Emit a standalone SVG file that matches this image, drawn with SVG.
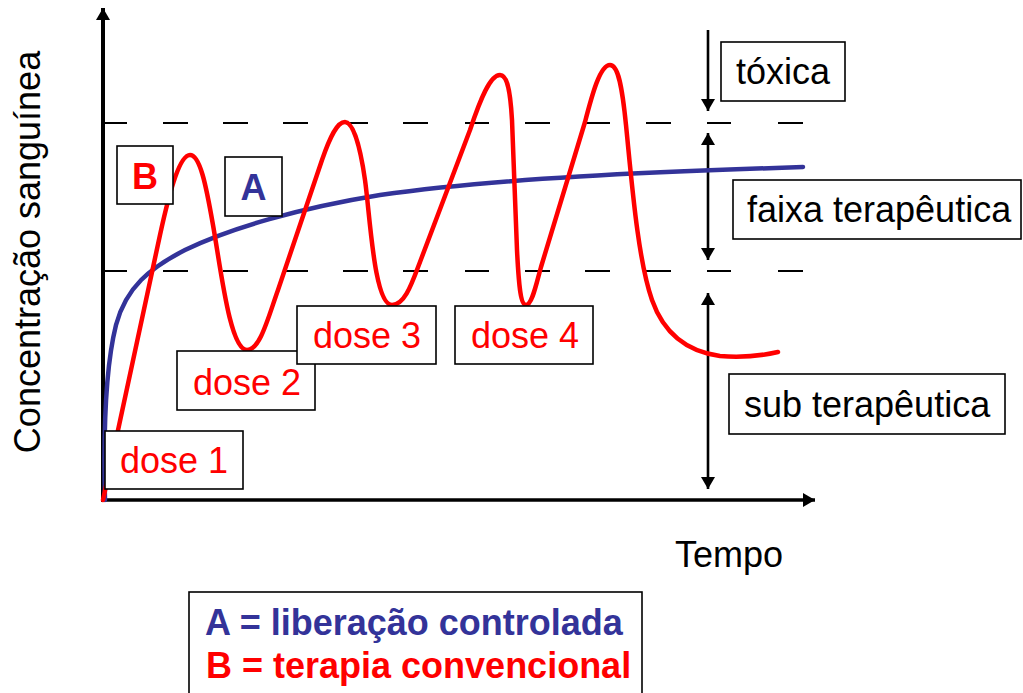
<svg xmlns="http://www.w3.org/2000/svg" width="1023" height="693" viewBox="0 0 1023 693">
<defs>
<marker id="ah" markerUnits="userSpaceOnUse" markerWidth="13" markerHeight="14" refX="12" refY="7" orient="auto-start-reverse">
<path d="M0,0 L12,7 L0,14 z" fill="#000"/>
</marker>
<style>
.box{fill:#fff;stroke:#000;stroke-width:1.6}
.t{font-family:"Liberation Sans",Arial,sans-serif;font-size:36px}
.red{fill:#ff0000}
.blk{fill:#000}
.bold{font-weight:bold}
.blue{fill:#333399}
.dash{stroke:#000;stroke-width:2;fill:none}
.arr{stroke:#000;stroke-width:2.6;fill:none}
</style>
</defs>
<rect width="1023" height="693" fill="#fff"/>

<g id="axes">
<line x1="103" y1="502" x2="103" y2="8" stroke="#000" stroke-width="4" marker-end="url(#ah)"/>
<line x1="101" y1="500" x2="815" y2="500" stroke="#000" stroke-width="3.5" marker-end="url(#ah)"/>
</g>

<g id="limits">
<path class="dash" d="M105,123h22M163,123h25M223,123h25M283,123h25M343,123h25M403,123h25M465,123h24M525,123h25M585,123h25M646,123h25M707,123h24M778,123h25"/>
<path class="dash" d="M105,271h22M163,271h25M223,271h25M283,271h25M343,271h25M403,271h25M465,271h24M525,271h25M585,271h25M646,271h25M707,271h24M778,271h25"/>
</g>

<g id="connectors">
<line class="arr" x1="708" y1="30" x2="708" y2="111" marker-end="url(#ah)"/>
<line class="arr" x1="708" y1="133" x2="708" y2="260" marker-start="url(#ah)" marker-end="url(#ah)"/>
<line class="arr" x1="708" y1="293" x2="708" y2="489" marker-start="url(#ah)" marker-end="url(#ah)"/>
</g>

<g id="curve-A">
<path d="M105,500 C103,420 106,365 116,325 C126,287 150,268 185,250 C230,228 300,208 380,195 C500,178 650,172 803,167" fill="none" stroke="#333399" stroke-width="4.5" stroke-linecap="round"/>
</g>

<g id="curve-B">
<path d="M103,500 L160,235 C170,189 180,155 190,155 C200,155 206,185 213,225 C221,270 230,350 247,350 C260,350 268,318 278,290 L322,160 C330,137 337,122 345,122 C353,122 360,145 365,180 C370,215 374,305 392,305 C405,305 412,283 420,262 L470,130 C480,100 490,75 500,75 C506,75 510,85 512,120 L517,250 C519,290 521,305 526,305 C532,305 536,285 541,267 L585,122 C592,95 600,65 610,65 C618,65 622,85 626,125 C632,185 638,260 652,300 C665,337 690,352 720,356 C745,358 765,355 778,352" fill="none" stroke="#ff0000" stroke-width="4.5" stroke-linecap="round" stroke-linejoin="round"/>
</g>

<g id="label-B">
<rect class="box" x="117" y="146" width="56" height="58"/>
<text class="t bold red" x="145" y="189" text-anchor="middle" font-size="33">B</text>
</g>
<g id="label-A">
<rect class="box" x="225" y="157" width="57" height="59"/>
<text class="t bold blue" x="253.5" y="200" text-anchor="middle" font-size="33">A</text>
</g>

<g id="dose1">
<rect class="box" x="105" y="431" width="138" height="58"/>
<text class="t red" x="120" y="473">dose 1</text>
</g>
<g id="dose2">
<rect class="box" x="177" y="351" width="138" height="59"/>
<text class="t red" x="193" y="395">dose 2</text>
</g>
<g id="dose3">
<rect class="box" x="297" y="306" width="139" height="58"/>
<text class="t red" x="313" y="348">dose 3</text>
</g>
<g id="dose4">
<rect class="box" x="455" y="306" width="138" height="58"/>
<text class="t red" x="471" y="348">dose 4</text>
</g>

<g id="toxica">
<rect class="box" x="721" y="42" width="124" height="59"/>
<text class="t blk" x="736" y="84">tóxica</text>
</g>
<g id="faixa">
<rect class="box" x="733" y="180" width="288" height="59"/>
<text class="t blk" x="747" y="222">faixa terapêutica</text>
</g>
<g id="sub">
<rect class="box" x="729" y="374" width="276" height="60"/>
<text class="t blk" x="744" y="417">sub terapêutica</text>
</g>

<g id="axis-labels">
<text class="t blk" x="675" y="567">Tempo</text>
<text class="t blk" transform="translate(40,252) rotate(-90)" text-anchor="middle">Concentração sanguínea</text>
</g>

<g id="legend">
<rect class="box" x="189" y="592" width="453" height="110"/>
<text class="t bold blue" x="205" y="635">A = liberação controlada</text>
<text class="t bold red" x="206" y="678">B = terapia convencional</text>
</g>
</svg>
